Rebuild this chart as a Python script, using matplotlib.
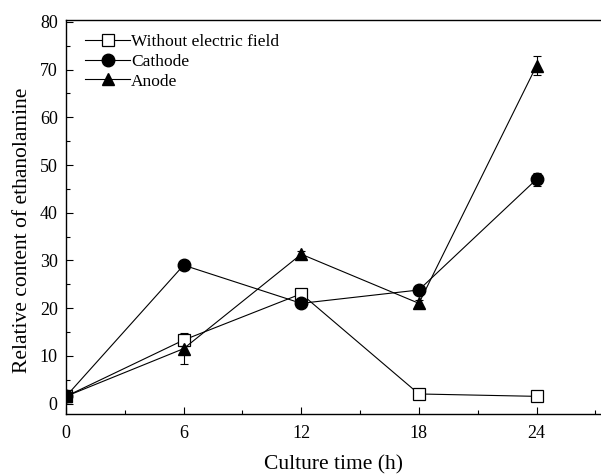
import numpy as np
import matplotlib
matplotlib.use("Agg")
import matplotlib.pyplot as plt
from matplotlib.ticker import MultipleLocator
from matplotlib.lines import Line2D

plt.rcParams['font.family'] = ['Liberation Serif', 'DejaVu Serif']

# culture time (h)
time = [0, 6, 12, 18, 24]

# relative content of ethanolamine
without_field = [1.5, 13.3, 23.0, 2.0, 1.5]
without_err = [0.5, 1.3, 1.0, 0.3, 1.0]
cathode = [1.5, 29.0, 21.0, 23.8, 47.0]
cathode_err = [0.5, 0.5, 0.6, 0.6, 1.3]
anode = [1.5, 11.5, 31.3, 21.0, 70.8]
anode_err = [0.5, 3.3, 0.6, 0.8, 2.0]

fig = plt.figure(figsize=(6.01, 4.74), dpi=100)
ax = fig.add_axes([66/601, 60/474, 545/601, 394/474])

common = dict(color='black', lw=0.8, ms=9, capsize=3, elinewidth=0.8, capthick=0.8)
ax.errorbar(time, without_field, yerr=without_err, marker='s', mfc='white', mec='black',
            mew=0.9, **common)
ax.errorbar(time, cathode, yerr=cathode_err, marker='o', mfc='black', **common)
ax.errorbar(time, anode, yerr=anode_err, marker='^', mfc='black', **common)

ax.set_xlim(0, 27.8)
ax.set_ylim(-2.2, 80.4)
ax.xaxis.set_major_locator(MultipleLocator(6))
ax.xaxis.set_minor_locator(MultipleLocator(3))
ax.yaxis.set_major_locator(MultipleLocator(10))
ax.yaxis.set_minor_locator(MultipleLocator(5))
ax.tick_params(which='both', direction='in', top=False, right=False, labelsize=13, width=0.8)
ax.tick_params(which='major', length=5)
ax.tick_params(axis='x', which='major', pad=8)
ax.tick_params(axis='y', which='major', pad=6)
ax.tick_params(which='minor', length=3)
ax.spines['right'].set_visible(False)
for s in ['left', 'bottom', 'top']:
    ax.spines[s].set_linewidth(1.0)

ax.set_xlabel('Culture time (h)', fontsize=15.5)
ax.set_ylabel('Relative content of ethanolamine', fontsize=15.5)
# label positions in axes fraction
ax.xaxis.set_label_coords((334 - 66) / 545, -(455 - 414) / 394)
ax.yaxis.set_label_coords(-(66 - 32) / 545, (414 - 230) / 394)

handles = [
    Line2D([], [], color='black', lw=0.8, marker='s', ms=9, mfc='white', mec='black', mew=0.9),
    Line2D([], [], color='black', lw=0.8, marker='o', ms=9, mfc='black'),
    Line2D([], [], color='black', lw=0.8, marker='^', ms=9, mfc='black'),
]
labels = ['Without electric field', 'Cathode', 'Anode']
ax.legend(handles, labels, loc='upper left', frameon=False, fontsize=12.5,
          handlelength=2.6, handletextpad=0.05, labelspacing=0.2,
          borderaxespad=0.3, bbox_to_anchor=(0.013, 0.995))

fig.savefig('out.png', dpi=100)
